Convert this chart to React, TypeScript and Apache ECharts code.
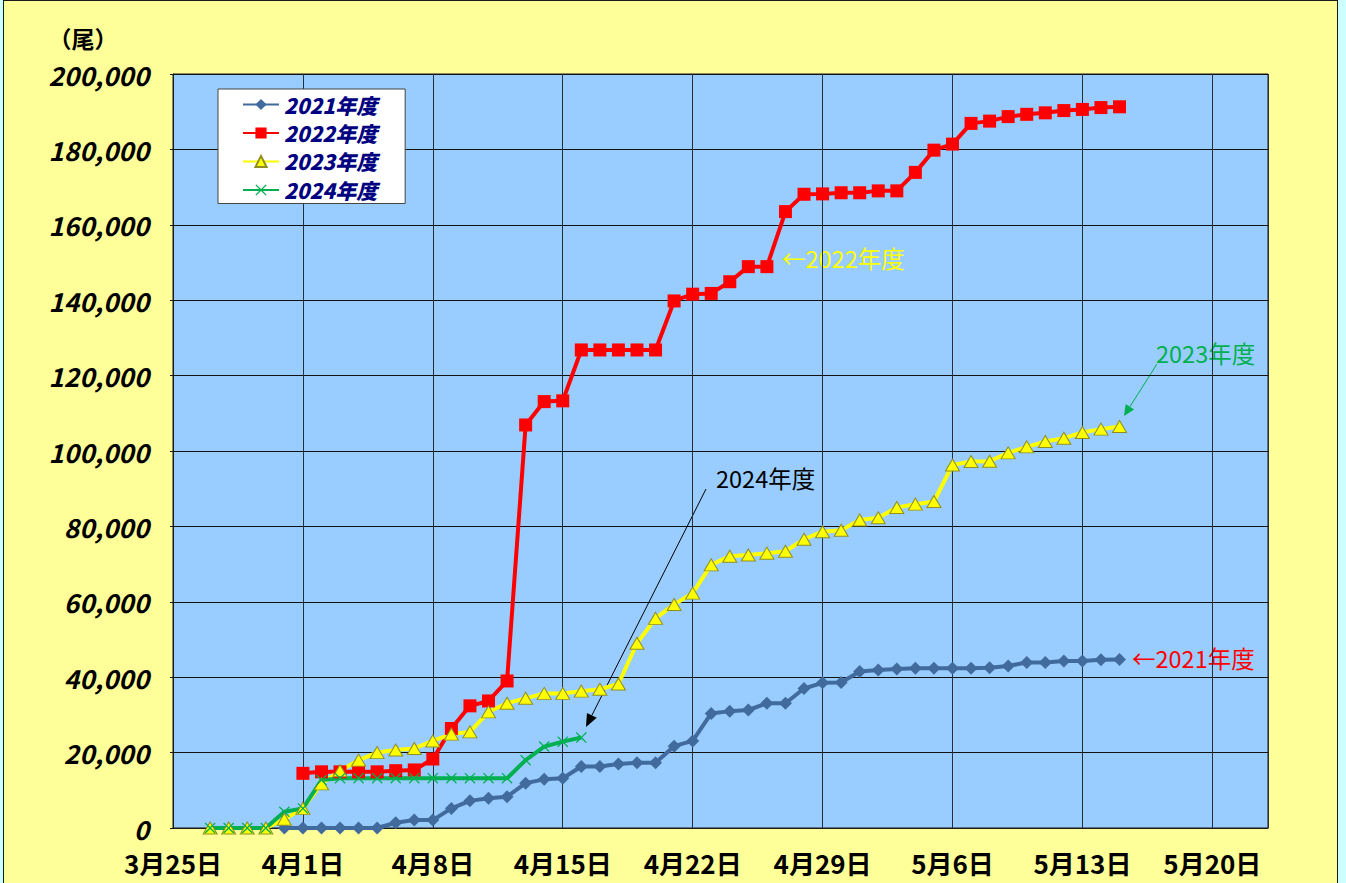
import React, { useEffect, useRef } from "react";
import * as echarts from "echarts";

// x axis: day offsets from 3月25日 (0) to 5月23日 (59)
const xTickLabels = ["3月25日", "4月1日", "4月8日", "4月15日", "4月22日", "4月29日", "5月6日", "5月13日", "5月20日"];
const dayMax = 59;

const yTickMax = 200000;
const yTickStep = 20000;

const seriesNames = ["2021年度", "2022年度", "2023年度", "2024年度"];

// values by day offset, starting at the given day
const start2021 = 6;
const values2021 = [
  0, 0, 0, 0, 0, 0, 1400, 2100, 2100, 5200, 7200, 7900, 8300, 11900, 12900, 13200,
  16300, 16300, 17000, 17300, 17300, 21700, 23100, 30400, 31000, 31300, 33100, 33100,
  37000, 38500, 38600, 41500, 41900, 42200, 42400, 42400, 42400, 42400, 42500, 43000,
  43900, 43900, 44300, 44300, 44600, 44700,
];

const start2022 = 7;
const values2022 = [
  14500, 14900, 14900, 14900, 14900, 15200, 15400, 18300, 26400, 32400, 33700, 39000,
  106900, 113100, 113300, 126800, 126800, 126800, 126800, 126800, 139800, 141600, 141800,
  144900, 148900, 148900, 163500, 168100, 168200, 168500, 168500, 169000, 169000, 173900,
  179800, 181400, 186900, 187500, 188700, 189300, 189700, 190300, 190600, 191100, 191300,
];

const start2023 = 2;
const values2023 = [
  0, 0, 0, 0, 2300, 5200, 11700, 15200, 18000, 20000, 20700, 21100, 23100, 24900, 25500,
  30800, 33100, 34400, 35700, 35700, 36300, 36800, 38200, 49000, 55600, 59300, 62300,
  69800, 72100, 72400, 72900, 73400, 76600, 78600, 79000, 81700, 82300, 85000, 85900,
  86600, 96300, 97200, 97300, 99500, 101100, 102500, 103400, 104900, 105800, 106500,
];

const start2024 = 2;
const values2024 = [
  0, 0, 0, 0, 4300, 5200, 12700, 13200, 13200, 13200, 13200, 13200, 13200, 13200, 13200,
  13200, 13200, 18000, 21600, 22900, 24000,
];

const toPairs = (start: number, vals: number[]) => vals.map((v, i) => [start + i, v]);

const CJK = "'Noto Sans CJK JP', 'Noto Sans', sans-serif";
const X_SYMBOL =
  "path://M0,0.8L0.8,0L5,4.2L9.2,0L10,0.8L5.8,5L10,9.2L9.2,10L5,5.8L0.8,10L0,9.2L4.2,5Z";

function arrow(x1: number, y1: number, x2: number, y2: number, color: string, len: number, half: number) {
  const dx = x2 - x1;
  const dy = y2 - y1;
  const l = Math.sqrt(dx * dx + dy * dy);
  const ux = dx / l;
  const uy = dy / l;
  const bx = x2 - ux * len;
  const by = y2 - uy * len;
  const px = -uy * half;
  const py = ux * half;
  return [
    { type: "line", shape: { x1, y1, x2: bx, y2: by }, style: { stroke: color, lineWidth: 1 } },
    {
      type: "polygon",
      shape: { points: [[x2, y2], [bx + px, by + py], [bx - px, by - py]] },
      style: { fill: color },
    },
  ];
}

export default function App() {
  const ref = useRef<HTMLDivElement>(null);

  useEffect(() => {
    if (!ref.current) return;
    const chart = echarts.init(ref.current, null, { renderer: "svg" });
    const annoFont = { fontSize: 23.5, fontFamily: CJK };
    chart.setOption({
      animation: false,
      backgroundColor: "transparent",
      grid: {
        left: 173,
        top: 74,
        width: 1095,
        height: 754,
        show: true,
        backgroundColor: "#99ccff",
        borderColor: "#1a1a1a",
        borderWidth: 1,
      },
      legend: {
        orient: "vertical",
        left: 218,
        top: 89,
        backgroundColor: "#ffffff",
        borderColor: "#444444",
        borderWidth: 1,
        padding: [5, 28, 3, 24],
        itemWidth: 36,
        itemHeight: 14,
        itemGap: 7.5,
        itemTextGap: 4,
        data: seriesNames,
        textStyle: {
          color: "#000080",
          fontSize: 21,
          lineHeight: 20,
          fontWeight: 900,
          fontStyle: "italic",
          fontFamily: CJK,
        },
      },
      xAxis: {
        type: "value",
        min: 0,
        max: dayMax,
        interval: 7,
        axisLine: { show: true, lineStyle: { color: "#1a1a1a", width: 1 } },
        axisTick: { show: false },
        splitLine: { show: true, lineStyle: { color: "#26303c", width: 1 } },
        axisLabel: {
          margin: 23,
          color: "#000000",
          fontSize: 26,
          lineHeight: 22,
          fontWeight: "bold",
          fontFamily: CJK,
          formatter: (v: number) => (v % 7 === 0 ? xTickLabels[v / 7] ?? "" : ""),
        },
      },
      yAxis: {
        type: "value",
        min: 0,
        max: yTickMax,
        interval: yTickStep,
        axisLine: { show: true, lineStyle: { color: "#1a1a1a", width: 1 } },
        axisTick: { show: true, length: 3, lineStyle: { color: "#1a1a1a" } },
        splitLine: { show: true, lineStyle: { color: "#111111", width: 1 } },
        axisLabel: {
          margin: 24,
          color: "#000000",
          fontSize: 26,
          lineHeight: 20,
          fontWeight: "bold",
          fontStyle: "italic",
          fontFamily: CJK,
          formatter: (v: number) => v.toLocaleString("en-US"),
        },
      },
      series: [
        {
          name: seriesNames[0],
          type: "line",
          data: toPairs(start2021, values2021),
          symbol: "diamond",
          symbolSize: 13,
          lineStyle: { color: "#416a9d", width: 4 },
          itemStyle: { color: "#416a9d" },
        },
        {
          name: seriesNames[1],
          type: "line",
          data: toPairs(start2022, values2022),
          symbol: "rect",
          symbolSize: 13,
          lineStyle: { color: "#ff0000", width: 4 },
          itemStyle: { color: "#ff0000" },
        },
        {
          name: seriesNames[2],
          type: "line",
          data: toPairs(start2023, values2023),
          symbol: "triangle",
          symbolSize: [14, 12],
          lineStyle: { color: "#ffff00", width: 4 },
          itemStyle: { color: "#ffff00", borderColor: "#8f8f20", borderWidth: 1 },
        },
        {
          name: seriesNames[3],
          type: "line",
          data: toPairs(start2024, values2024),
          symbol: X_SYMBOL,
          symbolSize: 11,
          lineStyle: { color: "#00b050", width: 4 },
          itemStyle: { color: "#00b050" },
        },
      ],
      graphic: [
        {
          type: "text",
          x: 83,
          y: 38,
          style: {
            text: "（尾）",
            fill: "#000000",
            fontSize: 23,
            fontWeight: "bold",
            fontFamily: CJK,
            align: "center",
            verticalAlign: "middle",
          },
        },
        {
          type: "text",
          x: 782,
          y: 258,
          style: { text: "←2022年度", fill: "#ffff00", ...annoFont, verticalAlign: "middle" },
        },
        {
          type: "text",
          x: 1156,
          y: 353,
          style: { text: "2023年度", fill: "#00b050", ...annoFont, verticalAlign: "middle" },
        },
        {
          type: "text",
          x: 716,
          y: 478,
          style: { text: "2024年度", fill: "#000000", ...annoFont, verticalAlign: "middle" },
        },
        {
          type: "text",
          x: 1132,
          y: 658,
          style: { text: "←2021年度", fill: "#ff0000", ...annoFont, verticalAlign: "middle" },
        },
        ...arrow(706, 489, 586, 727, "#000000", 13, 5.5),
        ...arrow(1157, 364, 1124, 416, "#00b050", 11, 5),
      ],
    });
    return () => chart.dispose();
  }, []);

  return (
    <div
      style={{
        position: "fixed",
        left: 0,
        top: 0,
        width: 1346,
        height: 883,
        background: "#ccffff",
        overflow: "hidden",
      }}
    >
      <div
        style={{
          position: "absolute",
          left: 3,
          top: 0,
          width: 1333,
          height: 900,
          background: "#ffff99",
          border: "1px solid #1a1a1a",
        }}
      />
      <div ref={ref} style={{ position: "absolute", left: 0, top: 0, width: 1346, height: 883 }} />
    </div>
  );
}
